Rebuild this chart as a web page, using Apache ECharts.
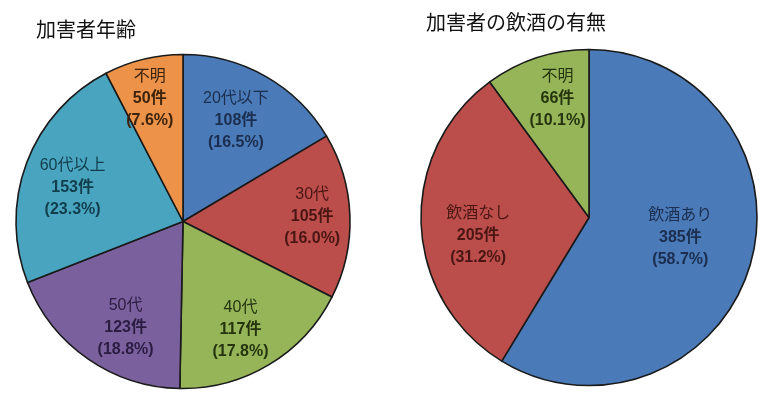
<!DOCTYPE html>
<html><head><meta charset="utf-8">
<script src="https://cdn.jsdelivr.net/npm/echarts@6/dist/echarts.min.js"></script>
<style>html,body{margin:0;padding:0;background:#fff}#c{width:780px;height:414px}</style>
</head><body><div id="c"></div>
<script>
// ---- data ----
const ageTitle = '加害者年齢';
const ageNames = ['20代以下', '30代', '40代', '50代', '60代以上', '不明'];
const ageCounts = [108, 105, 117, 123, 153, 50];
const agePct = [16.5, 16.0, 17.8, 18.8, 23.3, 7.6];

const drinkTitle = '加害者の飲酒の有無';
const drinkNames = ['飲酒あり', '飲酒なし', '不明'];
const drinkCounts = [385, 205, 66];
const drinkPct = [58.7, 31.2, 10.1];

// ---- styles ----
const ageColors = ['#4a7ab7', '#bb4e4a', '#95b558', '#7b609e', '#49a5bf', '#ec9349'];
const ageText = ['#1b2e4f', '#4a1614', '#26340e', '#2b1d42', '#123d4c', '#3d230c'];
const ageOffsets = [[-8, 6], [6, -1], [-6, 2], [13, 5], [5, 9], [-4, -3]];
const drinkColors = ['#4a7ab7', '#bb4e4a', '#95b558'];
const drinkText = ['#1b2e4f', '#4a1614', '#26340e'];
const drinkOffsets = [[-28, -13], [13, 13], [7, -1]];

const FONT = "'Liberation Sans', 'Noto Sans CJK JP', sans-serif";

function pieSeries(center, r, names, counts, colors) {
  return {
    type: 'pie', center: center, radius: [0, r], startAngle: 90, clockwise: true,
    silent: true, label: {show: false}, labelLine: {show: false},
    itemStyle: {borderColor: '#1a1a1a', borderWidth: 1.6},
    emphasis: {disabled: true},
    data: names.map((n, i) => ({name: n, value: counts[i], itemStyle: {color: colors[i]}}))
  };
}
function labelSeries(center, r, names, counts, pct, textColors, offsets) {
  return {
    type: 'pie', center: center, radius: [r * 0.44, r], startAngle: 90, clockwise: true,
    silent: true, labelLine: {show: false}, emphasis: {disabled: true},
    itemStyle: {color: 'rgba(0,0,0,0)', borderWidth: 0},
    data: names.map((n, i) => ({
      name: n, value: counts[i],
      label: {
        show: true, position: 'inside', offset: offsets[i],
        formatter: '{n|' + n + '}\n{b|' + counts[i] + '件}\n{b|(' + pct[i].toFixed(1) + '%)}',
        rich: {
          n: {fontSize: 16, fontFamily: FONT, color: textColors[i], lineHeight: 22, fontWeight: 'normal'},
          b: {fontSize: 16, fontFamily: FONT, color: textColors[i], lineHeight: 22, fontWeight: 'bold'}
        }
      }
    }))
  };
}

const chart = echarts.init(document.getElementById('c'), null, {renderer: 'canvas'});
chart.setOption({
  animation: false,
  backgroundColor: '#fff',
  title: [
    {text: ageTitle, left: 31, top: 16, textStyle: {fontSize: 20, fontWeight: 'normal', color: '#111', fontFamily: FONT}},
    {text: drinkTitle, left: 421, top: 9, textStyle: {fontSize: 20, fontWeight: 'normal', color: '#111', fontFamily: FONT}}
  ],
  series: [
    pieSeries([183, 221.5], 167, ageNames, ageCounts, ageColors),
    labelSeries([183, 221.5], 167, ageNames, ageCounts, agePct, ageText, ageOffsets),
    pieSeries([589, 217.5], 168, drinkNames, drinkCounts, drinkColors),
    labelSeries([589, 217.5], 168, drinkNames, drinkCounts, drinkPct, drinkText, drinkOffsets)
  ]
});
</script></body></html>
